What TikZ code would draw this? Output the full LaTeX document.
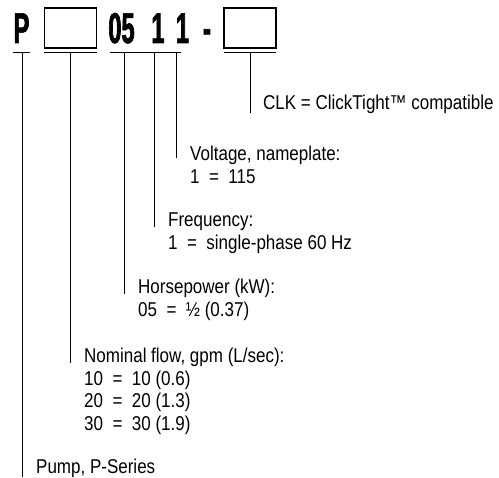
\documentclass[tikz,border=0pt]{standalone}
\usepackage{fontspec}
\setmainfont[FakeStretch=0.85]{Liberation Sans}
\newfontfamily\codefont[FakeStretch=0.55,FakeBold=1.5]{Liberation Sans}
\usetikzlibrary{positioning}

% first line of a multi-line label carries the baseline
\newcommand\rows[1]{\begin{tabular}[t]{@{}l@{}}#1\end{tabular}}

\begin{document}
\begin{tikzpicture}[x=1pt, y=-1pt,
      every node/.append style={inner sep=0pt},
      code/.style={font=\codefont\bfseries\fontsize{43}{43}\selectfont},
      slot/.style={draw, line width=1.3pt, minimum width=52pt, minimum height=40pt},
      lbl/.style={anchor=base west, font=\fontsize{20}{22.5}\selectfont},
      tick/.style={line width=1pt}]

     \useasboundingbox (0,0) rectangle (499,478);

     % model code
     \node [code, anchor=base] (P)    at (21.5,43) {P};
     \node [slot]              (flow) at (70.5,28) {};
     \node [code, anchor=base] (hp)   at (121.5,43) {05};
     \node [code, anchor=base] (freq) at (158,43) {1};
     \node [code, anchor=base] (volt) at (182.5,43) {1};
     \node [code, anchor=base] (dash) at (207,43) {-};
     \node [slot]              (clk)  at (250,28) {};

     % underlines
     \draw[tick] (13,53) -- (30,53);
     \draw[tick] (44,53) -- (97,53);
     \draw[tick] (110,53) -- (181,53);
     \draw[tick] (224,53) -- (276,53);

     % labels
     \node [lbl] (Lclk)  at (263,110) {CLK = ClickTight™ compatible};
     \node [lbl] (Lvolt) at (190,161) {\rows{Voltage, nameplate:\\1~~=~~115}};
     \node [lbl] (Lfreq) at (168,227) {\rows{Frequency:\\1~~=~~single-phase 60 Hz}};
     \node [lbl] (Lhp)   at (138,294) {\rows{Horsepower (kW):\\05~~=~~½ (0.37)}};
     \node [lbl] (Lflow) at (84,363)  {\rows{Nominal flow, gpm (L/sec):\\10~~=~~10 (0.6)\\20~~=~~20 (1.3)\\30~~=~~30 (1.9)}};
     \node [lbl] (LP)    at (36,474)  {Pump, P-Series};

     % leaders
     \coordinate (tP)    at (22,53);
     \coordinate (tflow) at (70,53);
     \coordinate (thp)   at (124,53);
     \coordinate (tfreq) at (154,53);
     \coordinate (tvolt) at (176,53);
     \coordinate (tclk)  at (250,53);
     \draw[tick] (tclk)  -- ([yshift=-3pt]tclk |- Lclk.base);
     \draw[tick] (tvolt) -- ([yshift=3pt]tvolt |- Lvolt.base);
     \draw[tick] (tfreq) -- (tfreq |- Lfreq.base);
     \draw[tick] (thp)   -- (thp |- Lhp.base);
     \draw[tick] (tflow) -- (tflow |- Lflow.base);
     \draw[tick] (tP)    -- ([yshift=-3pt]tP |- LP.base);
  \end{tikzpicture}
\end{document}
